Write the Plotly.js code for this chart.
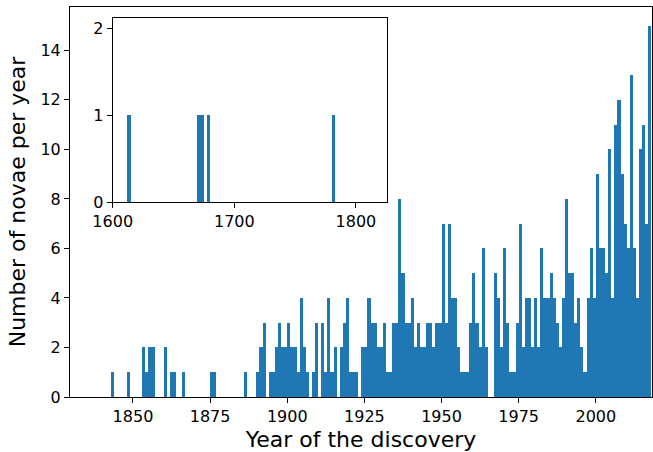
<!DOCTYPE html>
<html>
<head>
<meta charset="utf-8">
<script src="https://cdn.plot.ly/plotly-3.0.1.min.js"></script>
<style>html,body{margin:0;padding:0;background:#fff;}#chart{width:653px;height:452px;}</style>
</head>
<body>
<div id="chart"></div>
<script>
// Main histogram: year of discovery -> number of novae (years without novae omitted)
const years = [1843,1848,1853,1854,1855,1856,1860,1862,1863,1866,1875,1876,1886,
  1890,1891,1892,1894,1895,1896,1897,1898,1899,1900,1901,1902,1903,1904,1905,1906,
  1908,1909,1911,1912,1913,1914,1915,1917,1918,1919,1920,1921,1922,1924,1925,1926,
  1927,1928,1929,1930,1931,1932,1933,1934,1935,1936,1937,1938,1939,1940,1941,1942,
  1943,1944,1945,1946,1947,1948,1949,1950,1951,1952,1953,1954,1955,1956,1957,1958,
  1959,1960,1961,1962,1963,1964,1967,1968,1969,1970,1971,1972,1973,1974,1975,1976,
  1977,1978,1979,1980,1981,1982,1983,1984,1985,1986,1987,1988,1989,1990,1991,1992,
  1993,1994,1995,1996,1997,1998,1999,2000,2001,2002,2003,2004,2005,2006,2007,2008,
  2009,2010,2011,2012,2013,2014,2015,2016,2017];
const counts = [1,1,2,1,2,2,2,1,1,1,1,1,1,
  1,2,3,1,1,2,3,2,2,3,2,2,1,4,2,1,
  1,3,3,1,4,1,2,2,3,4,1,1,1,2,2,4,
  3,3,2,2,3,1,1,3,3,8,5,3,3,4,2,3,
  2,2,3,3,2,3,3,7,3,7,4,4,2,1,1,1,
  3,5,3,2,6,2,5,4,2,6,3,1,1,3,7,2,
  4,4,2,4,2,6,4,4,5,4,3,2,4,8,5,5,
  3,4,2,1,4,6,4,9,6,6,5,10,4,11,12,9,
  7,6,13,6,4,10,11,7,15];

// Inset: early historical novae
const earlyYears = [1612,1670,1672,1678,1783];

// Tick labels
const mainXTicks = [1850,1875,1900,1925,1950,1975,2000];
const mainYTicks = [0,2,4,6,8,10,12,14];
const insetXTicks = [1600,1700,1800];
const insetYTicks = [0,1,2];

const blue = '#1f77b4';
const font = {family:'DejaVu Sans, sans-serif', color:'#000'};

const traces = [
  {type:'bar', x:years, y:counts, width:1, offset:0,
   marker:{color:blue, line:{width:0}}, xaxis:'x', yaxis:'y', hoverinfo:'none'},
  {type:'histogram', x:earlyYears, xbins:{start:1612, end:1784, size:2.8501},
   marker:{color:blue, line:{width:0}}, xaxis:'x2', yaxis:'y2', hoverinfo:'none'}
];

const axisCommon = {
  ticks:'outside', ticklen:5, tickwidth:1, tickcolor:'#000',
  showline:true, mirror:true, linecolor:'#000', linewidth:1,
  showgrid:false, zeroline:false, tickfont:{size:16, family:font.family, color:'#000'},
  tickmode:'array'
};

const layout = {
  width:653, height:452,
  margin:{l:70, r:1, t:7, b:55},
  paper_bgcolor:'#fff', plot_bgcolor:'#fff',
  showlegend:false, bargap:0, font:font,
  xaxis:Object.assign({}, axisCommon, {
    range:[1829.6, 2018.2], tickvals:mainXTicks, ticktext:mainXTicks.map(String),
    title:{text:'Year of the discovery', font:{size:22, family:font.family, color:'#000'}, standoff:7}
  }),
  yaxis:Object.assign({}, axisCommon, {
    range:[0, 15.75], tickvals:mainYTicks, ticktext:mainYTicks.map(String),
    title:{text:'Number of novae per year', font:{size:22, family:font.family, color:'#000'}, standoff:8}
  }),
  xaxis2:Object.assign({}, axisCommon, {
    domain:[0.0734, 0.5452], anchor:'y2', range:[1600, 1825.8],
    tickvals:insetXTicks, ticktext:insetXTicks.map(String)
  }),
  yaxis2:Object.assign({}, axisCommon, {
    domain:[0.5, 0.971], anchor:'x2', range:[0, 2.12],
    tickvals:insetYTicks, ticktext:insetYTicks.map(String)
  })
};

Plotly.newPlot('chart', traces, layout, {staticPlot:true, displayModeBar:false});
</script>
</body>
</html>
